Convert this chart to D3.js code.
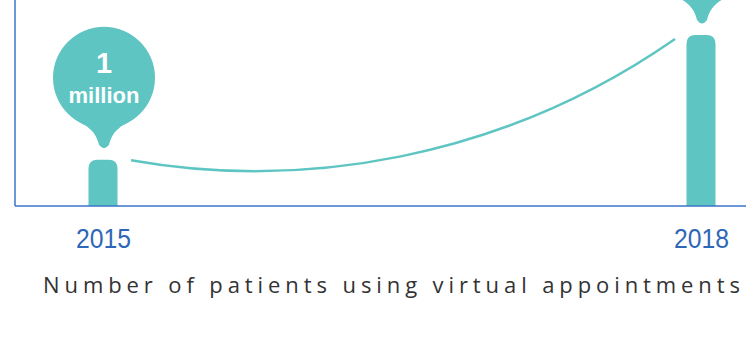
<!DOCTYPE html>
<html>
<head>
<meta charset="utf-8">
<script src="https://cdn.jsdelivr.net/npm/d3@7"></script>
<style>
  html, body { margin: 0; padding: 0; background: #fff; }
  svg { display: block; }
</style>
</head>
<body>
<div id="chart"></div>
<script>
// Chart data
const years = [2015, 2018];
const patients = [1, 3.7];            // millions
// only the 2015 bubble text is inside the visible frame
const bubbleLabels = [["1", "million"], null];
const title = "Number of patients using virtual appointments";

const width = 746;
const height = 351;
const teal = "#5ec5c2";
const blue = "#2f67b8";

const svg = d3.select("#chart")
    .append("svg")
    .attr("width", width)
    .attr("height", height);

// Scales
const x = d3.scaleLinear().domain([2015, 2018]).range([103, 701]);
const y = d3.scaleLinear().domain([0, d3.max(patients)]).range([206, 35]);

const barWidth = 29;
const radius = 9;

// Connector curve between the two bar tops
const sx = x(years[0]) + 28, sy = y(patients[0]) + 0.5;
const ex = x(years[1]) - 26, ey = y(patients[1]) + 4;
const dx = ex - sx;
const curve = d3.path();
curve.moveTo(sx, sy);
curve.bezierCurveTo(sx + 0.31 * dx, sy + 30, sx + 0.68 * dx, sy, ex, ey);
svg.append("path")
    .attr("d", curve.toString())
    .attr("fill", "none")
    .attr("stroke", teal)
    .attr("stroke-width", 2.5);

// Bars with rounded tops
function barPath(cx, top, bottom) {
    const l = cx - barWidth / 2, r = cx + barWidth / 2;
    const p = d3.path();
    p.moveTo(l, bottom);
    p.lineTo(l, top + radius);
    p.quadraticCurveTo(l, top, l + radius, top);
    p.lineTo(r - radius, top);
    p.quadraticCurveTo(r, top, r, top + radius);
    p.lineTo(r, bottom);
    p.closePath();
    return p.toString();
}

svg.selectAll(".bar")
    .data(years)
    .join("path")
    .attr("class", "bar")
    .attr("d", (d, i) => barPath(x(d), y(patients[i]), y(0)))
    .attr("fill", teal);

// Speech bubbles above each bar
const bubbles = svg.selectAll(".bubble")
    .data(years)
    .join("g")
    .attr("class", "bubble")
    .attr("transform", (d, i) => `translate(${x(d) + 1},${y(patients[i]) - 10})`);

bubbles.append("circle")
    .attr("cx", 0)
    .attr("cy", -72)
    .attr("r", 51)
    .attr("fill", teal);

bubbles.append("path")
    .attr("d", "M-31,-32 C-16,-24 -8,-18 -5,-5 Q0,2 5,-5 C8,-18 16,-24 31,-32 Z")
    .attr("fill", teal);

const labelled = bubbles.filter((d, i) => bubbleLabels[i] !== null);

labelled.append("text")
    .attr("x", 0)
    .attr("y", -77)
    .attr("text-anchor", "middle")
    .attr("fill", "#fff")
    .style("font-family", "'Liberation Sans', Arial, sans-serif")
    .style("font-weight", "bold")
    .style("font-size", "29px")
    .text((d) => bubbleLabels[years.indexOf(d)][0]);

labelled.append("text")
    .attr("x", 0)
    .attr("y", -47)
    .attr("text-anchor", "middle")
    .attr("fill", "#fff")
    .style("font-family", "'Liberation Sans', Arial, sans-serif")
    .style("font-weight", "bold")
    .style("font-size", "22px")
    .text((d) => bubbleLabels[years.indexOf(d)][1]);

// Axis lines
svg.append("line")
    .attr("x1", 15).attr("x2", 15)
    .attr("y1", 0).attr("y2", y(0))
    .attr("stroke", "#3a74c9")
    .attr("stroke-width", 1.5);
svg.append("line")
    .attr("x1", 15).attr("x2", width)
    .attr("y1", y(0)).attr("y2", y(0))
    .attr("stroke", "#3a74c9")
    .attr("stroke-width", 1.5);

// Year labels
const xAxis = svg.append("g")
    .attr("transform", `translate(0,${y(0)})`)
    .call(d3.axisBottom(x)
        .tickValues(years)
        .tickFormat(d3.format("d"))
        .tickSize(0)
        .tickPadding(0));
xAxis.select(".domain").remove();
xAxis.selectAll("text")
    .attr("dy", 0)
    .attr("y", 42)
    .attr("textLength", 55)
    .attr("lengthAdjust", "spacingAndGlyphs")
    .attr("fill", blue)
    .style("font-family", "'Liberation Sans', Arial, sans-serif")
    .style("font-size", "28px");

// Title
svg.append("text")
    .attr("x", 43)
    .attr("y", 293)
    .attr("textLength", 697)
    .attr("lengthAdjust", "spacing")
    .attr("fill", "#333")
    .style("font-family", "'Open Sans', sans-serif")
    .style("font-size", "22px")
    .text(title);
</script>
</body>
</html>
